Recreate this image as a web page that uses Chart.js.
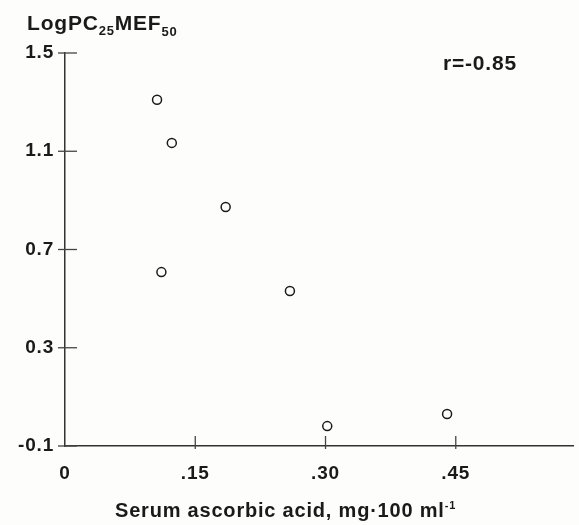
<!DOCTYPE html>
<html>
<head>
<meta charset="utf-8">
<script src="https://cdn.jsdelivr.net/npm/chart.js@4.4.1/dist/chart.umd.min.js"></script>
<style>
  html, body { margin: 0; padding: 0; background: #fdfdfb; }
  #wrap { width: 579px; height: 525px; position: relative; }
</style>
</head>
<body>
<div id="wrap"><canvas id="grafica" width="579" height="525"></canvas></div>
<script>
// valores
const ACIDO_ASCORBICO = [0.106, 0.123, 0.185, 0.111, 0.259, 0.302, 0.440];
const LOG_PC25 = [1.31, 1.134, 0.873, 0.608, 0.531, -0.019, 0.030];
const TICKS_Y = [-0.1, 0.3, 0.7, 1.1, 1.5];
const TICKS_X = [0, 0.15, 0.30, 0.45];

const FUENTE = "'Liberation Sans', Arial, sans-serif";
const TINTA = "#1a1a1a";

const puntos = ACIDO_ASCORBICO.map((x, i) => ({ x: x, y: LOG_PC25[i] }));

// letra un poco mas abierta, como en el original
const espaciado = {
  id: "espaciado",
  beforeDraw(chart) {
    chart.ctx.letterSpacing = "0.8px";
  },
};

// dibuja trozos de texto seguidos, con sub/superindices
const escribirPartes = (ctx, x, base, partes) => {
  partes.forEach(([txt, size, dy]) => {
    ctx.font = "bold " + size + "px " + FUENTE;
    ctx.fillText(txt, x, base + dy);
    x += ctx.measureText(txt).width;
  });
};

// marcas de escala hacia adentro + textos
const extras = {
  id: "extras",
  afterDraw(chart) {
    const { ctx, chartArea, scales } = chart;
    ctx.save();
    ctx.strokeStyle = "#444";
    ctx.lineWidth = 1.3;
    scales.y.ticks.forEach((t) => {
      const py = scales.y.getPixelForValue(t.value);
      ctx.beginPath();
      ctx.moveTo(chartArea.left - 7, py);
      ctx.lineTo(chartArea.left + 12, py);
      ctx.stroke();
    });
    scales.x.ticks.forEach((t) => {
      if (t.value === 0) return;
      const px = scales.x.getPixelForValue(t.value);
      ctx.beginPath();
      ctx.moveTo(px, chartArea.bottom - 10);
      ctx.lineTo(px, chartArea.bottom + 3);
      ctx.stroke();
    });

    ctx.fillStyle = TINTA;
    ctx.textBaseline = "alphabetic";
    ctx.textAlign = "left";
    // titulo del eje y: LogPC25MEF50
    escribirPartes(ctx, 27, 30, [
      ["LogPC", 21, 0],
      ["25", 13, 5],
      ["MEF", 21, 0],
      ["50", 13, 6],
    ]);
    // titulo del eje x
    escribirPartes(ctx, 115, 517, [
      ["Serum ascorbic acid, mg·100 ml", 20, 0],
      ["-1", 11, -8],
    ]);

    ctx.font = "bold 21px " + FUENTE;
    ctx.fillText("r=-0.85", 443, 70);
    ctx.restore();
  },
};

new Chart(document.getElementById("grafica"), {
  type: "scatter",
  data: {
    datasets: [
      {
        data: puntos,
        pointStyle: "circle",
        pointRadius: 4.5,
        pointBorderWidth: 1.5,
        pointBorderColor: TINTA,
        pointBackgroundColor: "rgba(0,0,0,0)",
      },
    ],
  },
  options: {
    responsive: false,
    animation: false,
    layout: { padding: { top: 53, right: 2, left: 0, bottom: 0 } },
    plugins: { legend: { display: false }, tooltip: { enabled: false } },
    scales: {
      x: {
        type: "linear",
        min: 0,
        max: 0.585,
        afterBuildTicks: (s) => { s.ticks = TICKS_X.map((v) => ({ value: v })); },
        afterFit: (s) => { s.height = 79; },
        grid: { display: false, drawTicks: false },
        border: { display: true, color: "#333", width: 1.5 },
        ticks: {
          padding: 16,
          color: TINTA,
          font: { family: FUENTE, size: 19, weight: "bold" },
          callback: (v) => (v === 0 ? "0" : v.toFixed(2).replace(/^0/, "")),
        },
      },
      y: {
        type: "linear",
        min: -0.1,
        max: 1.5,
        afterBuildTicks: (s) => { s.ticks = TICKS_Y.map((v) => ({ value: v })); },
        afterFit: (s) => { s.width = 65; },
        grid: { display: false, drawTicks: false },
        border: { display: true, color: "#333", width: 1.5 },
        ticks: {
          padding: 11,
          color: TINTA,
          font: { family: FUENTE, size: 19, weight: "bold" },
          callback: (v) => v.toFixed(1),
        },
      },
    },
  },
  plugins: [espaciado, extras],
});
</script>
</body>
</html>
